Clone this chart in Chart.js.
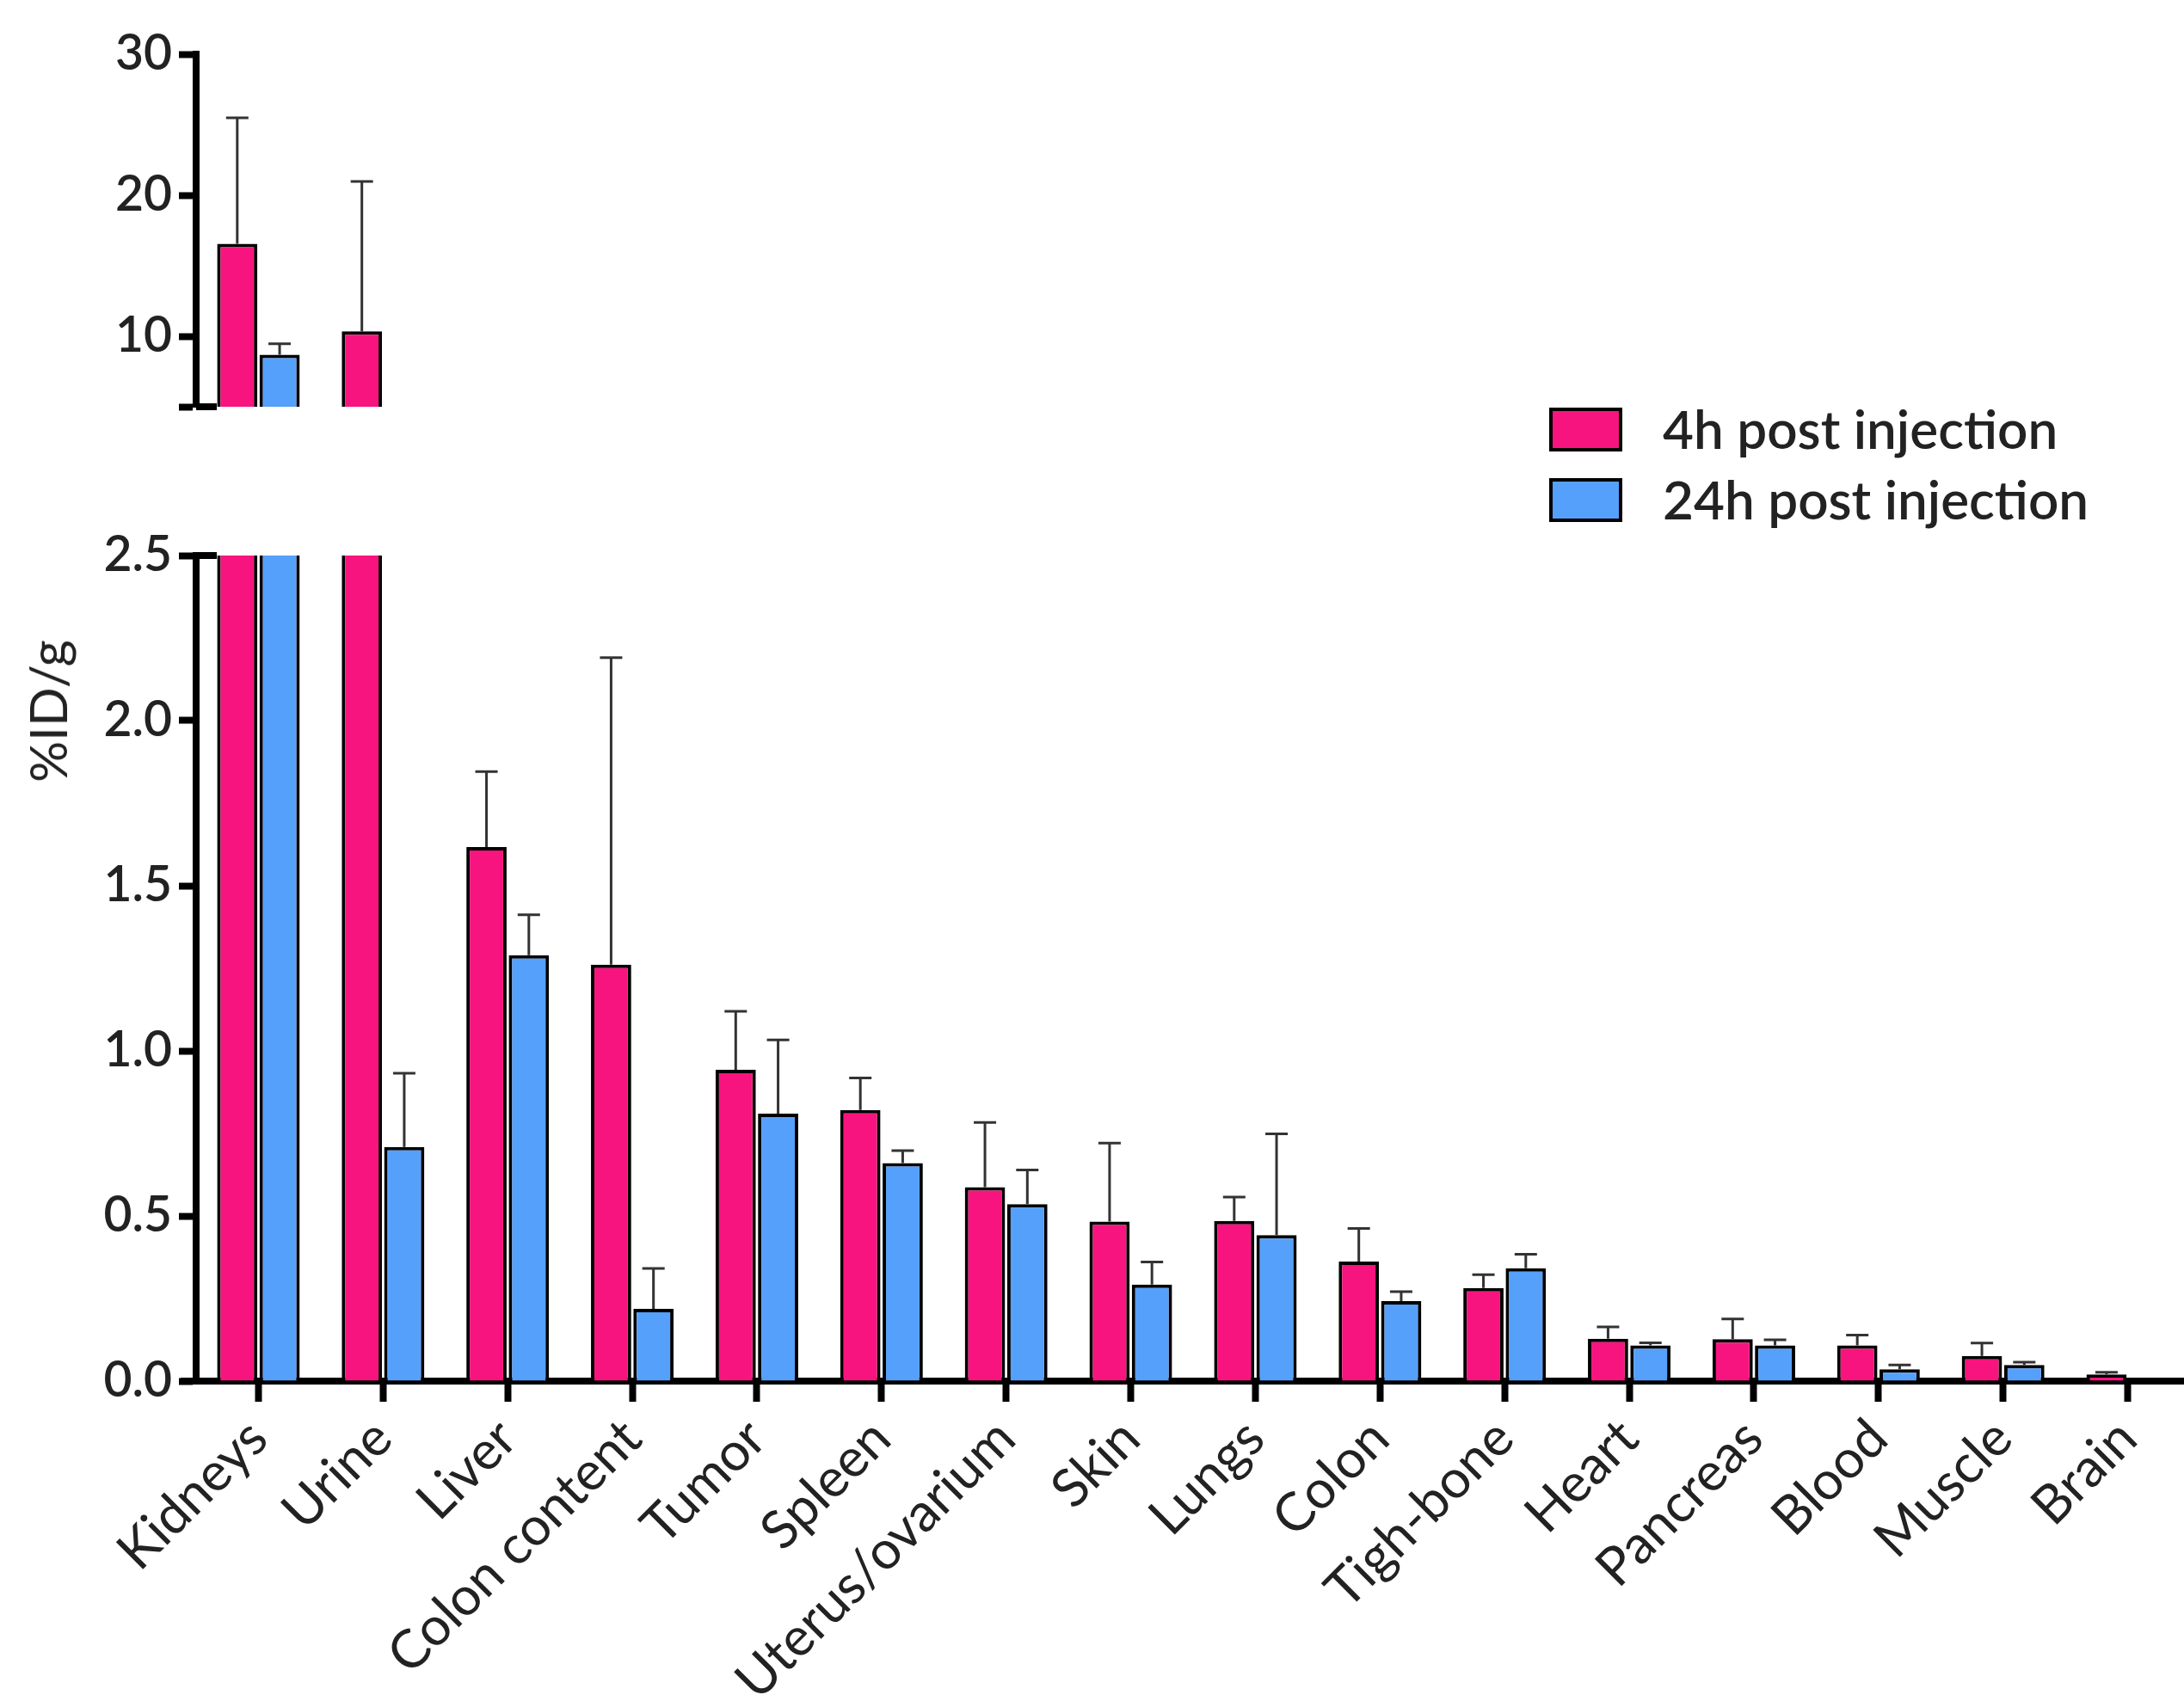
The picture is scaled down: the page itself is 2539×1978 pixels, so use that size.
<!DOCTYPE html>
<html>
<head>
<meta charset="utf-8">
<script src="https://cdn.jsdelivr.net/npm/chart.js@4.4.1/dist/chart.umd.min.js"></script>
<style>
  html, body { margin: 0; padding: 0; background: #fff; overflow: hidden; }
  body { width: 2539px; height: 1978px; position: relative; }
  .panel { position: absolute; left: 0; }
  #ylabel {
    position: absolute; left: 55px; top: 827px;
    transform: translate(-50%, -50%) rotate(-90deg);
    font: 60px Lato, sans-serif; color: #222; white-space: nowrap;
  }
</style>
</head>
<body>
<div class="panel" style="top:0"><canvas id="topChart" width="2546" height="640"></canvas></div>
<div class="panel" style="top:600px"><canvas id="bottomChart" width="2546" height="1378"></canvas></div>
<div id="ylabel">%ID/g</div>
<script>
// organs, left to right
const organs = ['Kidneys', 'Urine', 'Liver', 'Colon content', 'Tumor', 'Spleen',
  'Uterus/ovarium', 'Skin', 'Lungs', 'Colon', 'Tigh-bone', 'Heart', 'Pancreas',
  'Blood', 'Muscle', 'Brain'];

const seriesNames = ['4h post injection', '24h post injection'];

// mean %ID/g and upper error (SD)
const h4 = [16.55, 10.35, 1.617, 1.261, 0.943, 0.821, 0.587, 0.483, 0.485, 0.362, 0.282, 0.128, 0.127, 0.108, 0.076, 0.020];
const h4err = [8.94, 10.62, 0.229, 0.930, 0.177, 0.097, 0.196, 0.238, 0.072, 0.100, 0.040, 0.036, 0.061, 0.031, 0.039, 0.007];
const h24 = [8.69, 0.709, 1.290, 0.219, 0.810, 0.660, 0.536, 0.292, 0.442, 0.242, 0.342, 0.108, 0.108, 0.036, 0.049, 0];
const h24err = [0.77, 0.223, 0.122, 0.122, 0.223, 0.038, 0.103, 0.069, 0.307, 0.029, 0.042, 0.008, 0.017, 0.013, 0.008, 0];

// broken y axis: upper and lower segment
const topTicks = [5, 10, 20, 30];
const bottomTicks = [0, 0.5, 1.0, 1.5, 2.0, 2.5];

const pink = '#F7147F';
const blue = '#55A0FA';
const ink = '#222';

const topMin = topTicks[0];
const topMax = topTicks[topTicks.length - 1];
const bottomMax = bottomTicks[bottomTicks.length - 1];

// error bars (upper only) on top of each bar
const errorBars = {
  id: 'errorBars',
  afterDatasetsDraw(chart) {
    const ctx = chart.ctx;
    const area = chart.chartArea;
    const y = chart.scales.y;
    ctx.save();
    ctx.beginPath();
    ctx.rect(area.left, area.top, area.right - area.left, area.bottom - area.top);
    ctx.clip();
    ctx.strokeStyle = '#333';
    ctx.lineWidth = 3;
    chart.data.datasets.forEach((ds, i) => {
      const meta = chart.getDatasetMeta(i);
      meta.data.forEach((bar, j) => {
        const v = ds.data[j];
        const e = ds.errors[j];
        if (v == null || !e) return;
        const yTop = y.getPixelForValue(v + e);
        ctx.beginPath();
        ctx.moveTo(bar.x, bar.y);
        ctx.lineTo(bar.x, yTop);
        ctx.moveTo(bar.x - 13, yTop);
        ctx.lineTo(bar.x + 13, yTop);
        ctx.stroke();
      });
    });
    ctx.restore();
  }
};

// axis-break marks and the little stub of the x axis left of the y axis
const breakMarks = {
  id: 'breakMarks',
  afterDraw(chart, args, opts) {
    const ctx = chart.ctx;
    const area = chart.chartArea;
    const y = chart.scales.y;
    ctx.save();
    ctx.strokeStyle = '#000';
    ctx.lineWidth = 8;
    if (opts.value != null) {
      const py = y.getPixelForValue(opts.value);
      ctx.beginPath();
      ctx.moveTo(area.left, py);
      ctx.lineTo(area.left + 24, py);
      ctx.stroke();
    }
    if (opts.stub) {
      ctx.beginPath();
      ctx.moveTo(area.left - 18, area.bottom);
      ctx.lineTo(area.left, area.bottom);
      ctx.stroke();
    }
    ctx.restore();
  }
};

// legend boxes drawn in the gap between the two panels
const boxLegend = {
  id: 'boxLegend',
  afterDraw(chart, args, opts) {
    if (!opts.show) return;
    const ctx = chart.ctx;
    ctx.save();
    ctx.font = '600 62px Lato, sans-serif';
    ctx.textBaseline = 'middle';
    chart.data.datasets.forEach((ds, i) => {
      const bx = 1801, by = 474 + i * 82, bw = 85, bh = 51;
      ctx.fillStyle = ds.backgroundColor;
      ctx.fillRect(bx, by, bw, bh);
      ctx.strokeStyle = '#000';
      ctx.lineWidth = 4;
      ctx.strokeRect(bx + 2, by + 2, bw - 4, bh - 4);
      ctx.fillStyle = ink;
      ctx.fillText(ds.label, 1933, by + bh / 2 + 2);
    });
    ctx.restore();
  }
};

function makeDatasets(keep) {
  return [
    { label: seriesNames[0], data: h4.map(keep), errors: h4err, backgroundColor: pink },
    { label: seriesNames[1], data: h24.map(keep), errors: h24err, backgroundColor: blue }
  ].map(d => Object.assign(d, {
    borderColor: '#000', borderWidth: 4, borderSkipped: 'start',
    categoryPercentage: 0.68, barPercentage: 0.95
  }));
}

function yAxis(min, max, ticks, fmt) {
  return {
    min: min, max: max,
    afterBuildTicks: (s) => { s.ticks = ticks.map(v => ({ value: v })); },
    afterFit: (s) => { s.width = 228; },
    border: { display: true, color: '#000', width: 8 },
    grid: { drawOnChartArea: false, drawTicks: true, tickLength: 20, tickWidth: 8, tickColor: '#000' },
    ticks: {
      color: ink, padding: 8,
      font: { family: 'Lato', size: 57, weight: '600' },
      callback: fmt
    }
  };
}

Chart.defaults.animation = false;

new Chart(document.getElementById('topChart'), {
  type: 'bar',
  data: { labels: organs, datasets: makeDatasets(v => (v > topMin ? v : null)) },
  options: {
    responsive: false,
    devicePixelRatio: 1,
    layout: { padding: { top: 63, bottom: 167, left: 0, right: 0 } },
    plugins: {
      legend: { display: false },
      tooltip: { enabled: false },
      breakMarks: { value: topMin },
      boxLegend: { show: true }
    },
    scales: {
      x: { display: false },
      y: yAxis(topMin, topMax, topTicks, v => (v === topMin ? '' : String(v)))
    }
  },
  plugins: [errorBars, breakMarks, boxLegend]
});

new Chart(document.getElementById('bottomChart'), {
  type: 'bar',
  data: { labels: organs, datasets: makeDatasets(v => v) },
  options: {
    responsive: false,
    devicePixelRatio: 1,
    layout: { padding: { top: 46, bottom: 0, left: 0, right: 0 } },
    plugins: {
      legend: { display: false },
      tooltip: { enabled: false },
      breakMarks: { value: bottomMax, stub: true },
      boxLegend: { show: false }
    },
    scales: {
      x: {
        afterFit: (s) => { s.height = 372; },
        border: { display: true, color: '#000', width: 8 },
        grid: { offset: false, drawOnChartArea: false, drawTicks: true, tickLength: 24, tickWidth: 8, tickColor: '#000' },
        ticks: {
          color: ink, padding: 6, autoSkip: false,
          maxRotation: 45, minRotation: 45,
          font: { family: 'Lato', size: 62 }
        }
      },
      y: yAxis(0, bottomMax, bottomTicks, v => v.toFixed(1))
    }
  },
  plugins: [errorBars, breakMarks, boxLegend]
});
</script>
</body>
</html>
